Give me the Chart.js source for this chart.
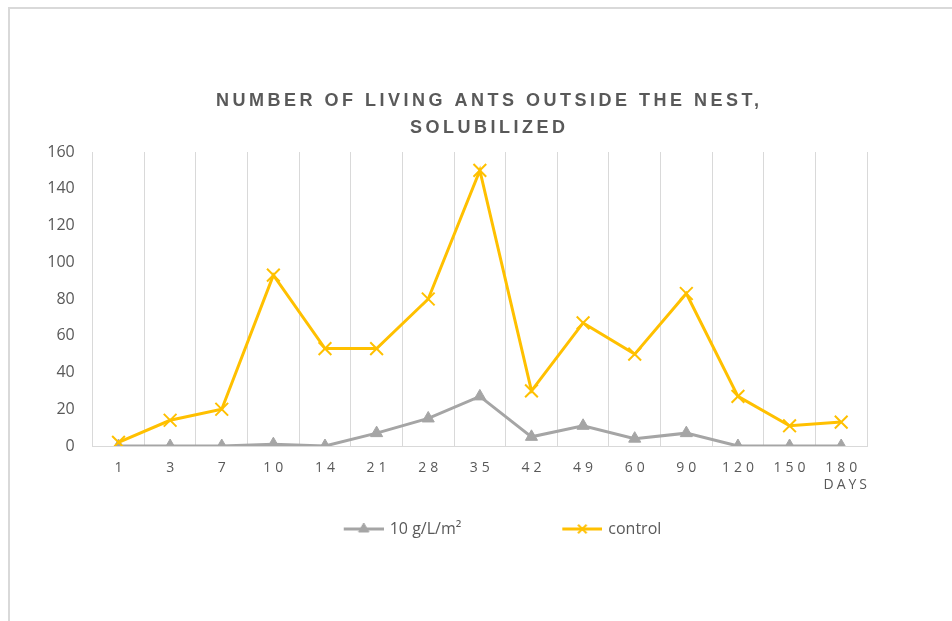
<!DOCTYPE html>
<html>
<head>
<meta charset="utf-8">
<script src="https://cdn.jsdelivr.net/npm/chart.js@4.4.1/dist/chart.umd.min.js"></script>
<style>
html,body{margin:0;padding:0;background:#fff;}
#wrap{position:relative;width:952px;height:621px;overflow:hidden;}
#frame{position:absolute;left:8px;top:7px;width:1000px;height:700px;border-left:2px solid #d9d9d9;border-top:2px solid #d9d9d9;}
canvas{position:absolute;left:0;top:0;}
</style>
</head>
<body>
<div id="wrap"><div id="frame"></div><canvas id="c" width="952" height="621"></canvas></div>
<script>
// ---- data ----
const categories = ['1', '3', '7', '10', '14', '21', '28', '35', '42', '49', '60', '90', '120', '150', '180'];
const treatedValues = [0, 0, 0, 1, 0, 7, 15, 27, 5, 11, 4, 7, 0, 0, 0];
const controlValues = [2, 14, 20, 93, 53, 53, 80, 150, 30, 67, 50, 83, 27, 11, 13];
const seriesNames = ['10 g/L/m²', 'control'];
const titleLines = ['NUMBER OF LIVING ANTS OUTSIDE THE NEST,', 'SOLUBILIZED'];
const xAxisTitle = 'DAYS';
const yMin = 0, yMax = 160, yStep = 20;

const GRAY = '#A5A5A5';
const GOLD = '#FFC000';
const TEXT = '#595959';
const GRID = '#D9D9D9';

function legendImage(color, style, radius) {
  const c = document.createElement('canvas');
  c.width = 123; c.height = 16;
  const g = c.getContext('2d');
  g.strokeStyle = color; g.fillStyle = color; g.lineWidth = 3;
  g.beginPath(); g.moveTo(83, 8); g.lineTo(123, 8); g.stroke();
  g.lineWidth = style === 'crossRot' ? 2 : 1;
  Chart.helpers.drawPoint(g, {pointStyle: style, radius: radius, borderWidth: g.lineWidth, rotation: 0}, 103, 8);
  return c;
}
const legendImgs = [legendImage(GRAY, 'triangle', 6), legendImage(GOLD, 'crossRot', 6)];

const spacingPlugin = {
  id: 'spacing',
  afterUpdate(chart) {
    const wrap = (obj, name, ls, dx) => {
      if (!obj || obj['_w_' + name]) return;
      const orig = obj[name].bind(obj);
      obj[name] = function (...a) {
        const ctx = chart.ctx;
        ctx.save();
        ctx.letterSpacing = ls;
        ctx.translate(dx, 0);
        orig(...a);
        ctx.restore();
      };
      obj['_w_' + name] = true;
    };
    wrap(chart.titleBlock, 'draw', '3.5px', 9.5);
    wrap(chart.legend, 'draw', '0px', 28.5);
    wrap(chart.scales.x, 'drawLabels', '4px', 2);
    wrap(chart.scales.x, 'drawTitle', '3px', 3);
  }
};

new Chart(document.getElementById('c'), {
  type: 'line',
  data: {
    labels: categories,
    datasets: [
      {
        label: seriesNames[0],
        data: treatedValues,
        borderColor: GRAY,
        backgroundColor: GRAY,
        borderWidth: 3,
        pointStyle: 'triangle',
        pointRadius: 7,
        pointBackgroundColor: GRAY,
        pointBorderColor: GRAY,
        pointBorderWidth: 1,
        tension: 0,
        order: 2
      },
      {
        label: seriesNames[1],
        data: controlValues,
        borderColor: GOLD,
        backgroundColor: GOLD,
        borderWidth: 3,
        pointStyle: 'crossRot',
        pointRadius: 9,
        pointBorderColor: GOLD,
        pointBorderWidth: 2,
        tension: 0,
        order: 1
      }
    ]
  },
  options: {
    responsive: false,
    animation: false,
    devicePixelRatio: 1,
    layout: {padding: {left: 0, right: 85, top: 0, bottom: 74}},
    scales: {
      x: {
        offset: true,
        grid: {display: true, offset: true, color: GRID, lineWidth: 1, drawTicks: false},
        border: {display: true, color: GRID, width: 1},
        ticks: {color: TEXT, font: {family: '"Open Sans"', size: 14}, padding: 14, maxRotation: 0, autoSkip: false},
        title: {display: true, text: xAxisTitle, align: 'end', color: TEXT, font: {family: '"Open Sans"', size: 14}, padding: {top: 0, bottom: 7.6}},
        afterFit(s) { s.height = 55; }
      },
      y: {
        min: yMin, max: yMax,
        grid: {display: false, drawTicks: false},
        border: {display: false},
        ticks: {stepSize: yStep, color: TEXT, font: {family: '"Open Sans"', size: 16}, padding: 18},
        afterFit(s) { s.width = 92.7; }
      }
    },
    plugins: {
      title: {
        display: true,
        fullSize: false,
        text: titleLines,
        color: TEXT,
        font: {family: '"Liberation Sans"', size: 18, weight: 'bold', lineHeight: 1.5},
        padding: {top: 87.5, bottom: 10.5}
      },
      legend: {
        position: 'bottom',
        labels: {
          usePointStyle: true,
          pointStyleWidth: 119,
          padding: 20,
          color: TEXT,
          font: {family: '"Open Sans"', size: 16},
          sort: (a, b) => a.datasetIndex - b.datasetIndex,
          generateLabels(chart) {
            const items = Chart.defaults.plugins.legend.labels.generateLabels(chart);
            items.forEach(it => { it.pointStyle = legendImgs[it.datasetIndex]; });
            return items;
          }
        }
      },
      tooltip: {enabled: false}
    }
  },
  plugins: [spacingPlugin]
});
</script>
</body>
</html>
